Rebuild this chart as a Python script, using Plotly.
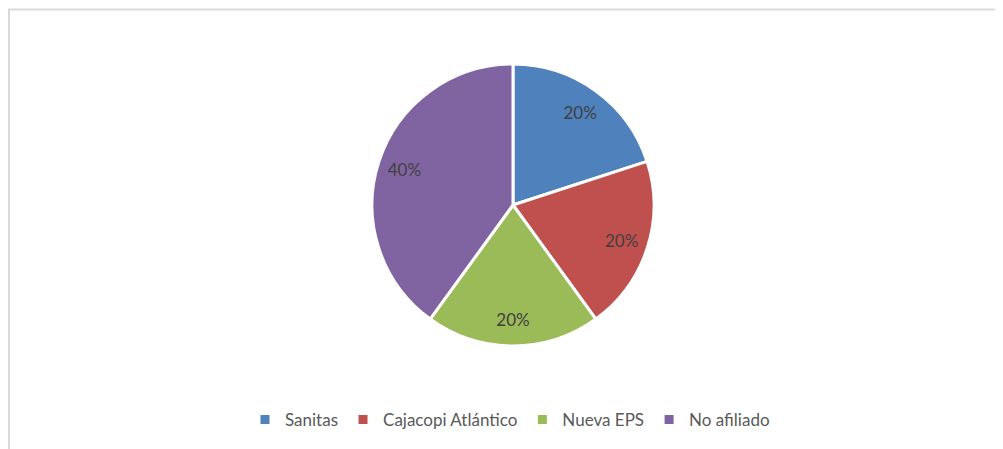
import plotly.graph_objects as go

categories = ["Sanitas", "Cajacopi Atlántico", "Nueva EPS", "No afiliado"]
values = [20, 20, 20, 40]
colors = ["#4F81BD", "#C0504D", "#9BBB59", "#8064A2"]

# page body has an 8px margin; figure coords = page coords - 8
OFF = 8
W, H = 1003 - OFF, 449 - OFF
cx, cy, r = 513 - OFF, 205 - OFF, 141
dom = dict(x=[(cx - r) / W, (cx + r) / W], y=[1 - (cy + r) / H, 1 - (cy - r) / H])

fig = go.Figure()
fig.add_trace(go.Pie(
    labels=categories,
    values=values,
    sort=False,
    direction="clockwise",
    rotation=0,
    marker=dict(colors=colors, line=dict(color="white", width=3)),
    textinfo="none",
    domain=dom,
    showlegend=True,
    hoverinfo="label+percent",
))
# transparent ring carrying the data labels at ~0.8 R
fig.add_trace(go.Pie(
    labels=categories,
    values=values,
    sort=False,
    direction="clockwise",
    rotation=0,
    hole=0.62,
    marker=dict(colors=["rgba(0,0,0,0)"] * len(values), line=dict(width=0)),
    texttemplate="%{percent:.0%}",
    textposition="inside",
    insidetextorientation="horizontal",
    textfont=dict(family="Lato", size=17, color="#404040"),
    domain=dom,
    showlegend=False,
    hoverinfo="skip",
))

fig.update_layout(
    width=W, height=H,
    margin=dict(l=0, r=0, t=0, b=0),
    paper_bgcolor="white",
    plot_bgcolor="white",
    legend=dict(
        orientation="h",
        x=(510 - OFF) / W, xanchor="center",
        y=1 - (420 - OFF) / H, yanchor="middle",
        itemwidth=30,
        font=dict(family="Lato", size=17, color="#595959"),
        itemclick=False,
    ),
    shapes=[dict(
        type="rect", xref="paper", yref="paper",
        x0=1 / W, x1=1.02, y0=-0.05, y1=1 - 1.5 / H,
        line=dict(color="#D9D9D9", width=2),
        fillcolor="rgba(0,0,0,0)",
        layer="below",
    )],
)

fig.write_html("out.html")
